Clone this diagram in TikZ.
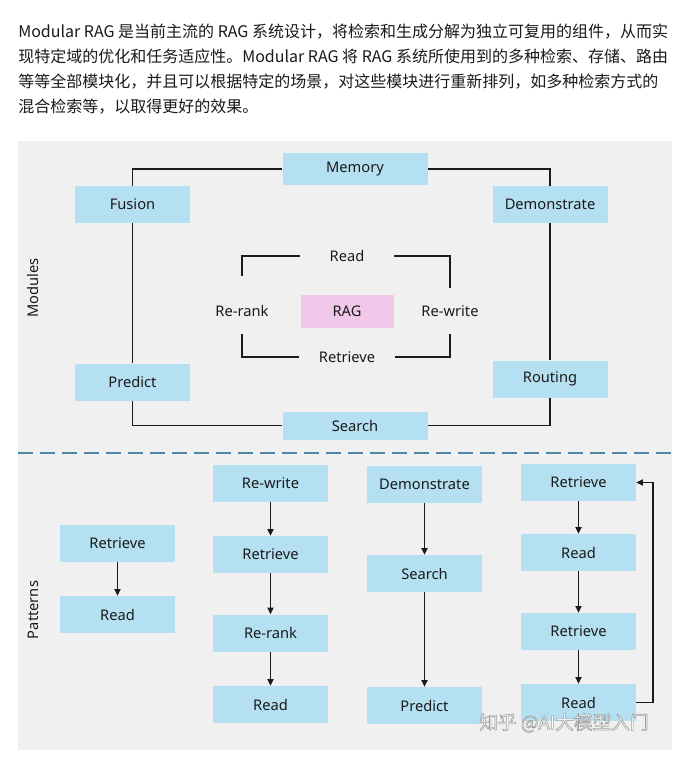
\documentclass[tikz,border=0pt]{standalone}
\usepackage{fontspec}
\setmainfont{Noto Sans}
\newfontfamily\cjk{Noto Sans CJK SC}
\usetikzlibrary{arrows.meta}
\definecolor{boxblue}{HTML}{B5E0F2}
\definecolor{ragpink}{HTML}{F2C8EA}
\definecolor{panel}{HTML}{F0F0F0}
\definecolor{dashblue}{HTML}{4F86A8}
\definecolor{txt}{HTML}{1A1A1A}
\definecolor{wm}{HTML}{FFFFFF}
\begin{document}
\begin{tikzpicture}[x=0.75pt,y=-0.75pt,
  every node/.style={text=txt, font=\fontsize{11}{13}\selectfont, inner sep=0pt},
  bbox/.style={fill=boxblue, minimum width=86.25pt, minimum height=27.75pt},
  widebox/.style={fill=boxblue, minimum width=108.75pt, minimum height=24pt},
  conn/.style={draw=txt, line width=1.3pt},
  arr/.style={draw=txt, line width=1.3pt, -{Triangle[length=5pt,width=4.5pt]}},
  headline/.style={anchor=base west, font=\cjk\fontsize{12}{18}\selectfont}]
\useasboundingbox (0,0) rectangle (687,771);
\fill[white] (0,0) rectangle (687,771);
% header text
\node[headline] (h1) at (18,37) {Modular RAG 是当前主流的 RAG 系统设计，将检索和生成分解为独立可复用的组件，从而实};
\node[headline] (h2) at (18,62) {现特定域的优化和任务适应性。Modular RAG 将 RAG 系统所使用到的多种检索、存储、路由};
\node[headline] (h3) at (18,87) {等等全部模块化，并且可以根据特定的场景，对这些模块进行重新排列，如多种检索方式的};
\node[headline] (h4) at (18,112) {混合检索等，以取得更好的效果。};
% panel
\fill[panel] (18,141) rectangle (672,750);
% Modules
\node[rotate=90] (modlabel) at (33,288) {Modules};
\node[widebox] (memory) at (355,169) {Memory};
\node[bbox] (fusion) at (132.5,204.5) {Fusion};
\node[bbox] (demo) at (550,204.5) {Demonstrate};
\node[bbox] (predict) at (132.5,382) {Predict};
\node[bbox] (routing) at (550,379) {Routing};
\node[fill=boxblue, minimum width=108.75pt, minimum height=21pt] (search) at (355,425.5) {Search};
\node[fill=ragpink, minimum width=69.75pt, minimum height=24.75pt] (rag) at (347,311) {RAG};
\node[minimum width=70.5pt] (read) at (347,256) {Read};
\node[minimum width=72pt] (retrieve) at (347,357) {Retrieve};
\node[minimum height=34.5pt] (rerank) at (242,311) {Re-rank};
\node[minimum height=33.75pt] (rewrite) at (450,311) {Re-write};
\draw[conn] (fusion.north) |- (memory.west);
\draw[conn] (memory.east) -| (demo.north);
\draw[conn] (fusion.south) -- (predict.north);
\draw[conn] (demo.south) -- (routing.north);
\draw[conn] (predict.south) |- (search.west);
\draw[conn] (routing.south) |- (search.east);
\draw[conn] ([yshift=9pt]rerank.north) |- (read.west);
\draw[conn] (rerank.south) |- (retrieve.west);
\draw[conn] (read.east) -| (rewrite.north);
\draw[conn] (retrieve.east) -| (rewrite.south);
% divider
\coordinate (divL) at (18,453);
\coordinate (divR) at (672,453);
\draw[dashblue, line width=1.6pt, dash pattern=on 11pt off 5.5pt] (divL) -- (divR);
% Patterns
\node[rotate=90] (patlabel) at (33,610) {Patterns};
\node[bbox] (a1) at (117.5,543) {Retrieve};
\node[bbox] (a2) at (117.5,614.5) {Read};
\node[bbox] (b1) at (270.5,483.5) {Re-write};
\node[bbox] (b2) at (270.5,554.5) {Retrieve};
\node[bbox] (b3) at (270.5,633) {Re-rank};
\node[bbox] (b4) at (270.5,704.5) {Read};
\node[bbox] (c1) at (424.5,484.5) {Demonstrate};
\node[bbox] (c2) at (424.5,573.5) {Search};
\node[bbox] (c3) at (424.5,705.5) {Predict};
\node[bbox] (d1) at (578.5,482.5) {Retrieve};
\node[bbox] (d2) at (578.5,552.5) {Read};
\node[bbox] (d3) at (578.5,631.5) {Retrieve};
\node[bbox] (d4) at (578.5,702.5) {Read};
\draw[arr] (a1) -- (a2);
\draw[arr] (b1) -- (b2);
\draw[arr] (b2) -- (b3);
\draw[arr] (b3) -- (b4);
\draw[arr] (c1) -- (c2);
\draw[arr] (c2) -- (c3);
\draw[arr] (d1) -- (d2);
\draw[arr] (d2) -- (d3);
\draw[arr] (d3) -- (d4);
\draw[arr] (d4.east) -- ++(17,0) |- (d1.east);
% watermark
\node[anchor=west, text=wm, font=\cjk\fontsize{14}{16}\selectfont] (wmark) at (479,723) {\special{pdf:literal q 2 Tr 0.45 w 0.62 0.62 0.62 RG}知乎 @AI大模型入门\special{pdf:literal Q}};
\end{tikzpicture}
\end{document}
